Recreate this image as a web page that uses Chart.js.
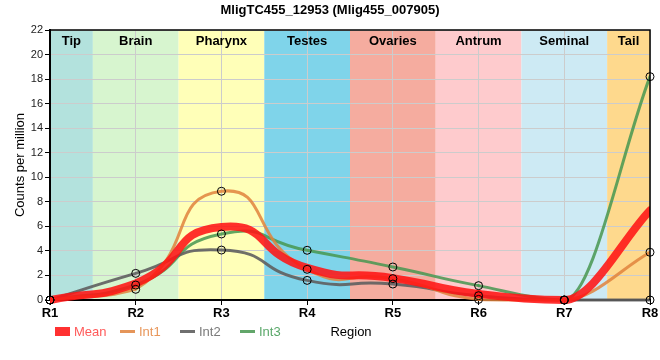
<!DOCTYPE html>
<html>
<head>
<meta charset="utf-8">
<script src="https://cdn.jsdelivr.net/npm/chart.js@4/dist/chart.umd.min.js"></script>
<style>
html,body{margin:0;padding:0;background:#fff;}
#wrap{width:660px;height:360px;position:relative;}
</style>
</head>
<body>
<div id="wrap"><canvas id="c" width="660" height="360"></canvas></div>
<script>
const chartTitle = 'MligTC455_12953 (Mlig455_007905)';
const categories = ['R1','R2','R3','R4','R5','R6','R7','R8'];
const regions = ['Tip','Brain','Pharynx','Testes','Ovaries','Antrum','Seminal','Tail'];
const regionColors = ['#b3e2dd','#d7f5cf','#ffffb8','#7fd4ea','#f5ac9f','#fecbcd','#cdeaf4','#fed98d'];
const meanValues = [0, 1.35, 5.95, 2.62, 1.78, 0.5, 0, 7.3];
const int1Values = [0, 0.87, 8.86, 2.5, 1.74, 0.05, 0, 3.89];
const int2Values = [0, 2.17, 4.07, 1.6, 1.3, 0.35, 0, 0];
const int3Values = [0, 1.22, 5.38, 4.05, 2.69, 1.17, 0, 18.2];
const yTicks = [0,2,4,6,8,10,12,14,16,18,20,22];

const FONT = '"Liberation Sans", Arial, sans-serif';
const series = [
  {label:'Mean', data:meanValues, color:'rgba(255,20,20,0.88)', text:'#ff5a5a', width:8, thick:true},
  {label:'Int1', data:int1Values, color:'rgba(224,130,60,0.85)', text:'#e8965a', width:3},
  {label:'Int2', data:int2Values, color:'rgba(95,95,95,0.9)', text:'#7a7a7a', width:3},
  {label:'Int3', data:int3Values, color:'rgba(70,150,80,0.85)', text:'#5aa86a', width:3}
];
const HIDE = 'rgba(0,0,0,0)';
const SPLIT = 5; // segments starting at this index use monotone interpolation
const CLIP = {left: 0, right: 0, top: 6, bottom: 6};

const datasets = [];
series.forEach(s => {
  const base = {
    data: s.data, backgroundColor: s.color, borderWidth: s.width, pointRadius: 0,
    fill: false, order: s.thick ? 1 : 2, borderCapStyle: 'round', clip: CLIP
  };
  datasets.push(Object.assign({}, base, {
    label: s.label, tension: 0.6, borderColor: s.color,
    segment: {borderColor: c => c.p0DataIndex < SPLIT ? s.color : HIDE}
  }));
  datasets.push(Object.assign({}, base, {
    label: s.label + ' tail', cubicInterpolationMode: 'monotone', borderColor: s.color,
    segment: {borderColor: c => c.p0DataIndex >= SPLIT ? s.color : HIDE}
  }));
});
series.slice(1).forEach(s => {
  datasets.push({
    label: s.label + ' pts', data: s.data, showLine: false,
    pointRadius: 4, pointBorderWidth: 1, pointBorderColor: '#000',
    pointBackgroundColor: HIDE, order: 0, clip: 6
  });
});

const bandsPlugin = {
  id: 'bands',
  beforeDraw(chart) {
    const {ctx, chartArea: a, scales: {x}} = chart;
    ctx.save();
    const step = x.getPixelForValue(1) - x.getPixelForValue(0);
    regions.forEach((r, i) => {
      const c = x.getPixelForValue(i);
      const l = Math.max(a.left, c - step/2), rr = Math.min(a.right, c + step/2);
      ctx.fillStyle = regionColors[i];
      ctx.fillRect(l, a.top, rr - l, a.bottom - a.top);
    });
    ctx.restore();
  },
  beforeDatasetsDraw(chart) {
    const {ctx, chartArea: a, scales: {x}} = chart;
    ctx.save();
    const step = x.getPixelForValue(1) - x.getPixelForValue(0);
    ctx.font = 'bold 13px ' + FONT;
    ctx.fillStyle = '#000';
    ctx.textAlign = 'center';
    ctx.textBaseline = 'middle';
    regions.forEach((r, i) => {
      const c = x.getPixelForValue(i);
      const l = Math.max(a.left, c - step/2), rr = Math.min(a.right, c + step/2);
      ctx.fillText(r, (l + rr)/2, a.top + 11);
    });
    ctx.restore();
  },
  afterDraw(chart) {
    const {ctx, chartArea: a} = chart;
    ctx.save();
    ctx.strokeStyle = '#000';
    ctx.lineWidth = 1.5;
    ctx.beginPath();
    ctx.moveTo(a.left, a.top); ctx.lineTo(a.right, a.top); ctx.lineTo(a.right, a.bottom);
    ctx.stroke();
    ctx.font = 'bold 13px ' + FONT;
    ctx.fillStyle = '#000';
    ctx.textAlign = 'center';
    ctx.textBaseline = 'middle';
    ctx.fillText(chartTitle, 330, 10);
    ctx.save();
    ctx.translate(20, 165);
    ctx.rotate(-Math.PI/2);
    ctx.font = '13px ' + FONT;
    ctx.fillText('Counts per million', 0, 0);
    ctx.restore();
    ctx.font = '13px ' + FONT;
    ctx.fillText('Region', 351, 332);
    ctx.textAlign = 'left';
    const xs = [55, 120, 180, 240];
    series.forEach((s, i) => {
      const x0 = xs[i];
      ctx.fillStyle = s.color;
      if (s.thick) ctx.fillRect(x0, 327, 15, 9);
      else ctx.fillRect(x0, 330, 15, 3);
      ctx.fillStyle = s.text;
      ctx.font = '13px ' + FONT;
      ctx.fillText(s.label, x0 + 19, 332);
    });
    ctx.restore();
  }
};

new Chart(document.getElementById('c'), {
  type: 'line',
  data: {labels: categories, datasets},
  options: {
    responsive: false, animation: false, devicePixelRatio: 1,
    layout: {padding: {left: 0, right: 10, top: 30, bottom: 0}},
    plugins: {legend: {display: false}, tooltip: {enabled: false}, title: {display: false}},
    scales: {
      x: {
        offset: false,
        grid: {color: '#cccccc', lineWidth: 1, tickLength: 5, tickColor: '#000', drawOnChartArea: true},
        border: {color: '#000', width: 2},
        ticks: {color: '#000', font: {family: FONT, size: 13, weight: 'bold'}, padding: 1, maxRotation: 0},
        afterFit(s) { s.height = 60; }
      },
      y: {
        min: 0, max: 22,
        afterBuildTicks(s) { s.ticks = yTicks.map(v => ({value: v})); },
        grid: {color: '#cccccc', lineWidth: 1, tickLength: 5, tickColor: '#000'},
        border: {color: '#000', width: 2},
        ticks: {color: '#222', font: {family: FONT, size: 11}, padding: 2},
        afterFit(s) { s.width = 50; }
      }
    }
  },
  plugins: [bandsPlugin]
});
</script>
</body>
</html>
